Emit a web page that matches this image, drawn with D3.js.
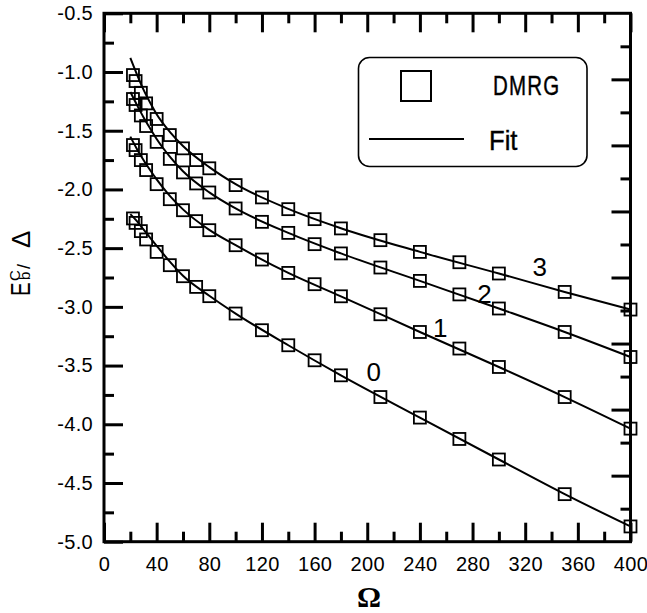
<!DOCTYPE html>
<html>
<head>
<meta charset="utf-8">
<script src="https://cdn.jsdelivr.net/npm/d3@7"></script>
<style>
  body { margin: 0; background: #fff; }
  svg { display: block; font-family: "Liberation Sans", Arial, sans-serif; }
</style>
</head>
<body>
<svg id="chart" width="647" height="613"></svg>
<script>
// --- data ---
const omega = [22, 24, 28, 32, 40, 50, 60, 70, 80, 100, 120, 140, 160, 180, 210, 240, 270, 300, 350, 400];
const dmrg0 = [-2.247, -2.285, -2.355, -2.426, -2.532, -2.645, -2.739, -2.83, -2.909, -3.057, -3.199, -3.327, -3.455, -3.583, -3.768, -3.943, -4.125, -4.30, -4.595, -4.87];
const dmrg1 = [-1.622, -1.665, -1.75, -1.835, -1.955, -2.083, -2.177, -2.27, -2.347, -2.475, -2.597, -2.711, -2.807, -2.91, -3.063, -3.214, -3.355, -3.512, -3.768, -4.037];
const dmrg2 = [-1.23, -1.281, -1.37, -1.46, -1.595, -1.74, -1.855, -1.949, -2.026, -2.162, -2.276, -2.37, -2.466, -2.545, -2.665, -2.779, -2.894, -3.014, -3.214, -3.427];
const dmrg3 = [-1.026, -1.077, -1.177, -1.267, -1.40, -1.537, -1.65, -1.75, -1.82, -1.963, -2.068, -2.168, -2.253, -2.332, -2.432, -2.532, -2.62, -2.716, -2.873, -3.023];

// fit curves
const fitOmega = [20, 25, 30, 35, 40, 50, 60, 80, 100, 140, 180, 240, 300, 350, 400];
const fit0 = [-2.21, -2.27, -2.34, -2.41, -2.48, -2.615, -2.735, -2.905, -3.057, -3.327, -3.583, -3.943, -4.30, -4.595, -4.87];
const fit1 = [-1.55, -1.655, -1.75, -1.835, -1.915, -2.055, -2.17, -2.345, -2.475, -2.711, -2.91, -3.214, -3.512, -3.768, -4.037];
const fit2 = [-1.17, -1.28, -1.385, -1.48, -1.57, -1.72, -1.845, -2.025, -2.162, -2.37, -2.545, -2.779, -3.014, -3.214, -3.427];
const fit3 = [-0.88, -1.02, -1.15, -1.26, -1.36, -1.51, -1.63, -1.81, -1.955, -2.165, -2.33, -2.532, -2.716, -2.873, -3.023];

// curve labels: text, omega, value (baseline)
const curveLabels = ["0", "1", "2", "3"];
const labelOmega = [205, 255.5, 289, 331];
const labelValue = [-3.631, -3.256, -2.969, -2.739];

const xTicks = [0, 40, 80, 120, 160, 200, 240, 280, 320, 360, 400];
const yTicks = [-5.0, -4.5, -4.0, -3.5, -3.0, -2.5, -2.0, -1.5, -1.0, -0.5];

// --- layout ---
const svg = d3.select("#chart");
const mLeft = 104, mRight = 630.5, mTop = 13.3, mBottom = 541.7;

const x = d3.scaleLinear().domain([0, 400]).range([mLeft, mRight]);
const y = d3.scaleLinear().domain([-5, -0.5]).range([mBottom, mTop]);
const yRight = d3.scaleLinear().domain([0, 16]).range([mBottom, mTop]); // unlabeled right axis

// plain hyphen instead of the unicode minus d3 uses
const fmtY = d => d3.format(".1f")(d).replace("\u2212", "-");

function styleAxis(g) {
  g.selectAll(".domain").remove();
  g.selectAll(".tick line").attr("stroke", "#000").attr("stroke-width", 3);
}

// major / minor ticks, all pointing inward
const major = 19, minor = 10;

svg.append("g").attr("transform", `translate(0,${mBottom})`)
  .call(d3.axisBottom(x).tickValues(d3.range(20, 400, 40)).tickSize(-minor).tickFormat(""))
  .call(styleAxis);
svg.append("g").attr("transform", `translate(0,${mBottom})`)
  .call(d3.axisBottom(x).tickValues(xTicks).tickSize(-major).tickPadding(15).tickFormat(d3.format("d")))
  .call(styleAxis)
  .call(g => g.selectAll("text").attr("font-size", 20).attr("fill", "#000").attr("letter-spacing", 0.3));

svg.append("g").attr("transform", `translate(0,${mTop})`)
  .call(d3.axisTop(x).tickValues(d3.range(20, 400, 40)).tickSize(-minor).tickFormat(""))
  .call(styleAxis);
svg.append("g").attr("transform", `translate(0,${mTop})`)
  .call(d3.axisTop(x).tickValues(xTicks).tickSize(-major).tickFormat(""))
  .call(styleAxis);

svg.append("g").attr("transform", `translate(${mLeft},0)`)
  .call(d3.axisLeft(y).tickValues(d3.range(-4.75, -0.5, 0.5)).tickSize(-minor).tickFormat(""))
  .call(styleAxis);
svg.append("g").attr("transform", `translate(${mLeft},0)`)
  .call(d3.axisLeft(y).tickValues(yTicks).tickSize(-major).tickPadding(11).tickFormat(fmtY))
  .call(styleAxis)
  .call(g => g.selectAll("text").attr("font-size", 20).attr("fill", "#000").attr("letter-spacing", 0.3));

svg.append("g").attr("transform", `translate(${mRight},0)`)
  .call(d3.axisRight(yRight).tickValues(d3.range(1, 16, 2)).tickSize(-minor).tickFormat(""))
  .call(styleAxis);
svg.append("g").attr("transform", `translate(${mRight},0)`)
  .call(d3.axisRight(yRight).tickValues(d3.range(2, 16, 2)).tickSize(-major).tickFormat(""))
  .call(styleAxis);

// frame
svg.append("rect")
  .attr("x", mLeft).attr("y", mTop)
  .attr("width", mRight - mLeft).attr("height", mBottom - mTop)
  .attr("fill", "none").attr("stroke", "#000").attr("stroke-width", 3);

// --- fit lines ---
const line = d3.line().x(d => x(d[0])).y(d => y(d[1])).curve(d3.curveMonotoneX);
[fit0, fit1, fit2, fit3].forEach(f => {
  svg.append("path")
    .datum(fitOmega.map((o, i) => [o, f[i]]))
    .attr("d", line)
    .attr("fill", "none").attr("stroke", "#000").attr("stroke-width", 2);
});

// --- DMRG markers ---
const ms = 12;
[dmrg0, dmrg1, dmrg2, dmrg3].forEach(s => {
  svg.append("g").selectAll("rect")
    .data(omega.map((o, i) => [o, s[i]]))
    .join("rect")
    .attr("x", d => x(d[0]) - ms / 2).attr("y", d => y(d[1]) - ms / 2)
    .attr("width", ms).attr("height", ms)
    .attr("fill", "none").attr("stroke", "#000").attr("stroke-width", 1.8);
});

// curve labels
svg.append("g").selectAll("text")
  .data(curveLabels)
  .join("text")
  .attr("x", (d, i) => x(labelOmega[i])).attr("y", (d, i) => y(labelValue[i]))
  .attr("text-anchor", "middle").attr("font-size", 26)
  .text(d => d);

// --- legend ---
const legend = svg.append("g");
legend.append("rect")
  .attr("x", 358.5).attr("y", 57.5).attr("width", 228.5).attr("height", 109)
  .attr("rx", 11).attr("fill", "#fff").attr("stroke", "#000").attr("stroke-width", 1.6);
legend.append("rect")
  .attr("x", 401).attr("y", 71).attr("width", 30).attr("height", 30)
  .attr("fill", "none").attr("stroke", "#000").attr("stroke-width", 2);
legend.append("line")
  .attr("x1", 369).attr("x2", 464).attr("y1", 139).attr("y2", 139)
  .attr("stroke", "#000").attr("stroke-width", 2);
legend.append("text")
  .attr("transform", "translate(493,95) scale(0.76,1)")
  .attr("font-size", 27).attr("letter-spacing", 1.5)
  .attr("stroke", "#000").attr("stroke-width", 0.4)
  .text("DMRG");
legend.append("text")
  .attr("transform", "translate(489,150) scale(0.95,1)")
  .attr("font-size", 27)
  .attr("stroke", "#000").attr("stroke-width", 0.4)
  .text("Fit");

// --- axis titles ---
svg.append("text")
  .attr("x", 369).attr("y", 607)
  .attr("text-anchor", "middle")
  .attr("font-family", "'Liberation Serif', 'Times New Roman', serif")
  .attr("font-weight", "bold").attr("font-size", 30)
  .text("Ω");

const yt = svg.append("g").attr("transform", "translate(30,296) rotate(-90)");
yt.append("text").attr("x", 0).attr("y", 0).attr("font-size", 27)
  .attr("transform", "scale(0.75,1)").text("E");
yt.append("text").attr("x", 15).attr("y", -10).attr("font-size", 15).text("C");
yt.append("text").attr("x", 16).attr("y", 0).attr("font-size", 15).text("b");
yt.append("text").attr("x", 27).attr("y", 0).attr("font-size", 18).text("/");
yt.append("text").attr("x", 48).attr("y", 0).attr("font-size", 26).text("Δ");
</script>
</body>
</html>
